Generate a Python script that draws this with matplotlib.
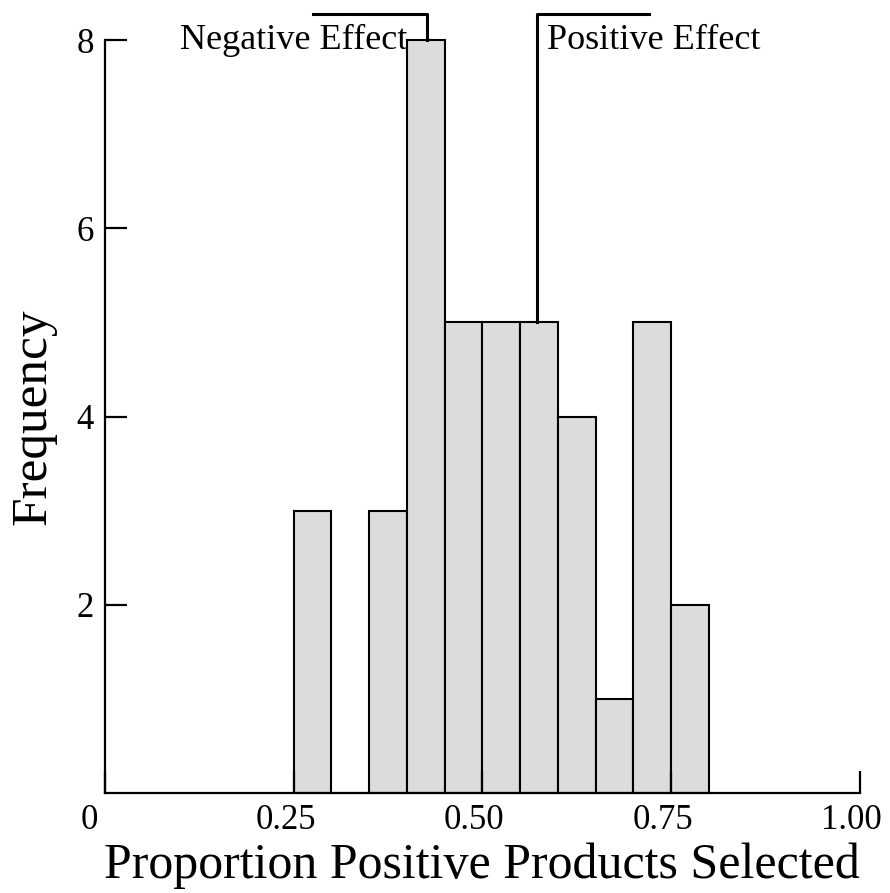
import matplotlib.pyplot as plt
import matplotlib.transforms as mtransforms

plt.rcParams['font.family'] = ['Liberation Serif', 'DejaVu Serif']

# 直方图数据：每个区间宽0.05
bin_left = [0.25, 0.30, 0.35, 0.40, 0.45, 0.50, 0.55, 0.60, 0.65, 0.70, 0.75]
counts = [3, 0, 3, 8, 5, 5, 5, 4, 1, 5, 2]
bin_width = 0.05

x_ticks = [0, 0.25, 0.50, 0.75, 1.00]
x_labels = ['0', '0.25', '0.50', '0.75', '1.00']
y_ticks = [2, 4, 6, 8]

fig = plt.figure(figsize=(8.9, 8.93), dpi=100)
ax = fig.add_axes([0.118, 0.112, 0.848, 0.843])

ax.bar(bin_left, counts, width=bin_width, align='edge',
       color='#dcdcdc', edgecolor='black', linewidth=1.5, clip_on=False)

ax.set_xlim(0, 1)
ax.set_ylim(0, 8)

# 坐标轴样式
for side in ['top', 'right']:
    ax.spines[side].set_visible(False)
for side in ['left', 'bottom']:
    ax.spines[side].set_linewidth(1.6)

ax.set_xticks(x_ticks)
ax.set_xticklabels(x_labels)
ax.set_yticks(y_ticks)
ax.tick_params(axis='both', direction='in', length=16, width=1.6,
               labelsize=25)
ax.tick_params(axis='x', pad=8)
ax.tick_params(axis='y', pad=8)

# 刻度文字整体略向左，原点的0再多移一点
for i, lab in enumerate(ax.get_xticklabels()):
    dx = -16 if i == 0 else -8
    offset = mtransforms.ScaledTranslation(dx / 100, 0, fig.dpi_scale_trans)
    lab.set_transform(lab.get_transform() + offset)

ax.set_xlabel('Proportion Positive Products Selected', fontsize=36, labelpad=4)
ax.set_ylabel('Frequency', fontsize=37, labelpad=14)

# 正负效应标注
ax.plot([0.2755, 0.4265, 0.4265], [8.28, 8.28, 8.0], color='black',
        linewidth=2.2, clip_on=False)
ax.plot([0.572, 0.572, 0.7205], [5.0, 8.28, 8.28], color='black',
        linewidth=2.2, clip_on=False)
ax.text(0.4, 8.0, 'Negative Effect', fontsize=26, ha='right', va='center')
ax.text(0.585, 8.0, 'Positive Effect', fontsize=26, ha='left', va='center')

plt.savefig('out.png', dpi=100)
